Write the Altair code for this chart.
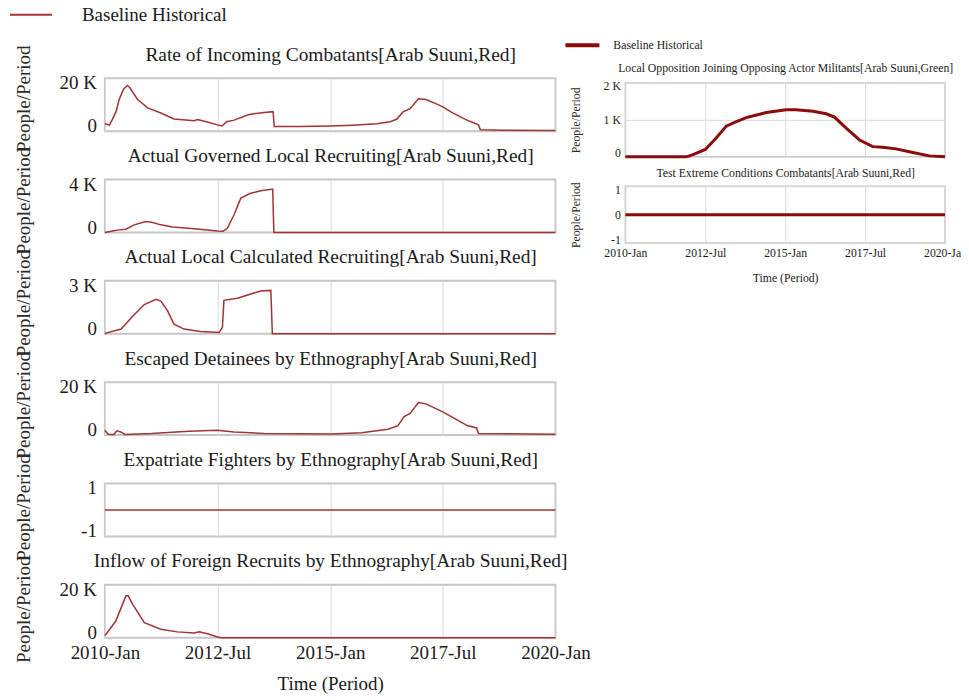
import altair as alt
import pandas as pd

SERIES_NAME = "Baseline Historical"
X_TICK_VALUES = [0, 30, 60, 90, 120]          # months since 2010-Jan
X_TICK_LABELS = ["2010-Jan", "2012-Jul", "2015-Jan", "2017-Jul", "2020-Jan"]
X_TITLE = "Time (Period)"
Y_TITLE = "People/Period"

LEFT_TITLES = [
    "Rate of Incoming Combatants[Arab Suuni,Red]",
    "Actual Governed Local Recruiting[Arab Suuni,Red]",
    "Actual Local Calculated Recruiting[Arab Suuni,Red]",
    "Escaped Detainees by Ethnography[Arab Suuni,Red]",
    "Expatriate Fighters by Ethnography[Arab Suuni,Red]",
    "Inflow of Foreign Recruits by Ethnography[Arab Suuni,Red]",
]
RIGHT_TITLES = [
    "Local Opposition Joining Opposing Actor Militants[Arab Suuni,Green]",
    "Test Extreme Conditions Combatants[Arab Suuni,Red]",
]

# ---- series (month index since 2010-Jan, people/period) ----
rate_m = [0, 1.2, 2.0, 3.0, 3.8, 5.0, 6.0, 6.6, 8.7, 11.4, 14.9, 18.4, 23.8, 24.7, 27.0, 30.0, 31.2, 32.4, 34.4, 38.4,
          42.4, 44.8, 45.1, 52.0, 60.0, 66.0, 72.4, 76.0, 77.8, 79.4, 81.3, 83.5, 85.5, 88.0, 90.0, 92.5, 96.0, 98.5,
          99.5, 100.0, 106.0, 120.0]
rate_v = [2800, 2300, 4500, 7500, 12000, 16000, 17300, 16500, 12000, 8800, 6900, 4600, 4000, 4400, 3600, 2400, 2000,
          3600, 4200, 6300, 7100, 7400, 1800, 1800, 2000, 2300, 2800, 3600, 4600, 7300, 8500, 12300, 12000, 10500,
          9200, 7000, 4500, 3000, 2400, 600, 400, 300]

gov_m = [0, 2.0, 3.8, 5.6, 7.8, 10.9, 12.5, 14.9, 18.0, 23.8, 30.0, 31.5, 32.6, 34.4, 36.2, 38.8, 41.5, 44.7, 45.0, 120]
gov_v = [0, 120, 200, 250, 580, 830, 780, 580, 420, 280, 120, 100, 320, 1340, 2600, 2970, 3150, 3280, 0, 0]

calc_m = [0, 0.3, 4.3, 7.4, 10.5, 13.6, 14.9, 16.7, 18.4, 21.1, 25.5, 30.4, 31.3, 31.7, 35.3, 41.5, 44.2, 44.6, 120]
calc_v = [0, 40, 270, 1000, 1660, 1950, 1850, 1300, 550, 270, 130, 70, 360, 1900, 2020, 2430, 2460, 0, 0]

esc_m = [0, 0.9, 2.4, 3.2, 4.2, 5.4, 12.4, 22.4, 29.9, 34.4, 42.4, 60.4, 68.4, 75.4, 78.0, 79.7, 81.3, 83.5, 85.5,
         90.0, 92.5, 96.5, 99.0, 99.5, 120]
esc_v = [1850, 270, 270, 1600, 1200, 270, 600, 1500, 1800, 1200, 600, 400, 900, 2200, 3500, 7000, 8200, 12300, 11800,
         8800, 6800, 3600, 2700, 600, 300]

exp_m = [0, 120]
exp_v = [0, 0]

inflow_m = [0, 0.3, 2.9, 5.6, 6.2, 7.4, 10.5, 14.9, 19.3, 23.8, 25.1, 27.3, 30.0, 31.0, 120]
inflow_v = [800, 1300, 6300, 15800, 15800, 12600, 5700, 3200, 2200, 1800, 2200, 1500, 260, 0, 0]

opp_m = [0, 22.9, 25.4, 30.0, 34.1, 37.9, 41.0, 45.4, 50.4, 52.9, 60.4, 64.1, 70.4, 75.4, 78.5, 82.9, 87.9, 92.9,
         96.6, 101.6, 107.9, 114.1, 120]
opp_v = [0, 0, 60, 200, 510, 830, 930, 1060, 1150, 1200, 1275, 1275, 1230, 1165, 1075, 775, 455, 275, 260, 215,
         115, 25, 0]

test_m = [0, 120]
test_v = [0, 0]

LEFT_SERIES = [(rate_m, rate_v), (gov_m, gov_v), (calc_m, calc_v), (esc_m, esc_v), (exp_m, exp_v),
               (inflow_m, inflow_v)]
LEFT_DOMAINS = [[0, 20000], [0, 4000], [0, 3000], [0, 20000], [-1, 1], [0, 20000]]
RIGHT_SERIES = [(opp_m, opp_v), (test_m, test_v)]
RIGHT_DOMAINS = [[0, 2000], [-1, 1]]
RIGHT_TICKS = [[0, 1000, 2000], [-1, 0, 1]]

# ---- styling / layout ----
SERIF = "Liberation Serif"
LEFT_LINE = "#a03333"
RIGHT_LINE = "#8b0a0a"
FRAME = "#c6c6c6"
GRID = "#dadada"
TXT = "#1a1a1a"

XEXPR = "[" + ",".join("'%s'" % s for s in X_TICK_LABELS) + "][indexof([" + \
        ",".join(str(v) for v in X_TICK_VALUES) + "], datum.value)]"
KEXPR = "datum.value == 0 ? '0' : format(datum.value / 1000, 'd') + ' K'"
NEXPR = "toString(datum.value)"

LW, LH, LSP = 451, 53, 48.4
RW = 320
RH = [74, 57]
RSP = 29.4
L_FS, L_TFS = 19, 19.4
R_FS = 11.75
L_LEG_Y = -85.7
R_LEG_Y = -56.7


def build(i, series, domain, yticks, titles, width, height, fs, tfs, title_y, line_color, line_w,
          frame_w, ylab_pad, flush_off, ytitle_x, ytitle_y, ygrid, lab_pad, tit_pad, legend):
    months, vals = series
    df = pd.DataFrame({"m": months, "v": vals, "s": SERIES_NAME})
    bottom = i == len(titles) - 1
    xscale = alt.Scale(domain=[0, 120], nice=False, zero=False)
    yscale = alt.Scale(domain=domain, nice=False, zero=False)
    top_axis = alt.Axis(orient="top", values=X_TICK_VALUES, grid=True, gridColor=GRID, ticks=False,
                        domain=False, labels=False, title=titles[i], titleX=width / 2, titleY=title_y,
                        titleAlign="center", titleBaseline="alphabetic", titleAngle=0, titleFont=SERIF,
                        titleFontSize=tfs, titleFontWeight="normal", titleColor=TXT)
    yaxis = alt.Axis(values=yticks, grid=ygrid, gridColor=GRID, ticks=False, domain=False,
                     labelExpr=NEXPR if domain[0] < 0 else KEXPR, labelFont=SERIF, labelFontSize=fs,
                     labelColor=TXT, labelPadding=ylab_pad, labelFlush=True, labelFlushOffset=flush_off,
                     title=Y_TITLE, titleFont=SERIF, titleFontSize=fs, titleFontWeight="normal",
                     titleColor="#2a2a2a", titleX=ytitle_x, titleY=ytitle_y, titleAngle=270,
                     titleAlign="center", titleBaseline="middle")
    base = alt.Chart(df, view=alt.ViewBackground(stroke=FRAME, strokeWidth=frame_w)).properties(
        width=width, height=height)
    enc = dict(x=alt.X("m:Q", scale=xscale, axis=top_axis), y=alt.Y("v:Q", scale=yscale, axis=yaxis))
    if legend is not None:
        enc["color"] = alt.Color("s:N", scale=alt.Scale(domain=[SERIES_NAME], range=[line_color]),
                                 legend=legend)
        line = base.mark_line(strokeWidth=line_w).encode(**enc)
    else:
        line = base.mark_line(strokeWidth=line_w, color=line_color).encode(**enc)
    if not bottom:
        return line
    bottom_axis = alt.Axis(orient="bottom", values=X_TICK_VALUES, grid=False, ticks=False, domain=False,
                           labelExpr=XEXPR, labelFont=SERIF, labelFontSize=fs, labelColor=TXT,
                           labelPadding=lab_pad, labelFlush=False,
                           title=X_TITLE, titleFont=SERIF, titleFontSize=fs, titleFontWeight="normal",
                           titleColor=TXT, titlePadding=tit_pad)
    hidden = base.mark_line(strokeWidth=line_w, color=line_color, strokeOpacity=0).encode(
        x=alt.X("m:Q", scale=xscale, axis=bottom_axis),
        y=alt.Y("v:Q", scale=yscale, axis=yaxis))
    return alt.layer(line, hidden).resolve_axis(x="independent")


def left_sub(i):
    legend = None
    if i == 0:
        legend = alt.Legend(orient="none", legendX=-96, legendY=L_LEG_Y, title=None, symbolType="stroke",
                            symbolSize=1764, symbolStrokeWidth=2, labelOffset=29, labelFont=SERIF,
                            labelFontSize=L_FS, labelColor=TXT, padding=0)
    return build(i, LEFT_SERIES[i], LEFT_DOMAINS[i], LEFT_DOMAINS[i], LEFT_TITLES, LW, LH, L_FS, L_TFS, -18,
                 LEFT_LINE, 1.5, 2, 8.5, 4.5, -81, 20 + 0.9 * i, False, 6, 12, legend)


def right_sub(i):
    legend = None
    if i == 0:
        legend = alt.Legend(orient="none", legendX=-62, legendY=R_LEG_Y, title=None, symbolType="stroke",
                            symbolSize=1156, symbolStrokeWidth=4, labelOffset=12, labelFont=SERIF,
                            labelFontSize=R_FS, labelColor=TXT, padding=0)
    return build(i, RIGHT_SERIES[i], RIGHT_DOMAINS[i], RIGHT_TICKS[i], RIGHT_TITLES, RW, RH[i], R_FS, R_FS,
                 -11.6 if i == 0 else -10.0, RIGHT_LINE, 3, 1.5, 5, 2, -50, RH[i] / 2, True, 4.5, 13, legend)


left = alt.vconcat(*[left_sub(i) for i in range(len(LEFT_SERIES))], spacing=LSP, bounds="flush"
                   ).resolve_scale(color="independent").resolve_legend(color="independent")

spacer = alt.Chart(pd.DataFrame({"z": [0]}), view=alt.ViewBackground(strokeWidth=0)).mark_point(
    opacity=0).encode(x=alt.X("z:Q", axis=None), y=alt.Y("z:Q", axis=None)).properties(width=1, height=1)

right_inner = alt.vconcat(right_sub(0), right_sub(1), spacing=RSP, bounds="flush"
                          ).resolve_scale(color="independent").resolve_legend(color="independent")
right = alt.vconcat(spacer, right_inner, spacing=3.6, bounds="flush"
                    ).resolve_scale(color="independent").resolve_legend(color="independent")

chart = alt.hconcat(left, right, spacing=521, bounds="flush").resolve_scale(
    color="independent").resolve_legend(color="independent").properties(
    padding={"left": 0, "top": -17, "right": -7, "bottom": -1}
).configure(font=SERIF).configure_view(stroke=FRAME)

chart.save("out.html", embed_options={"renderer": "svg", "actions": False})
